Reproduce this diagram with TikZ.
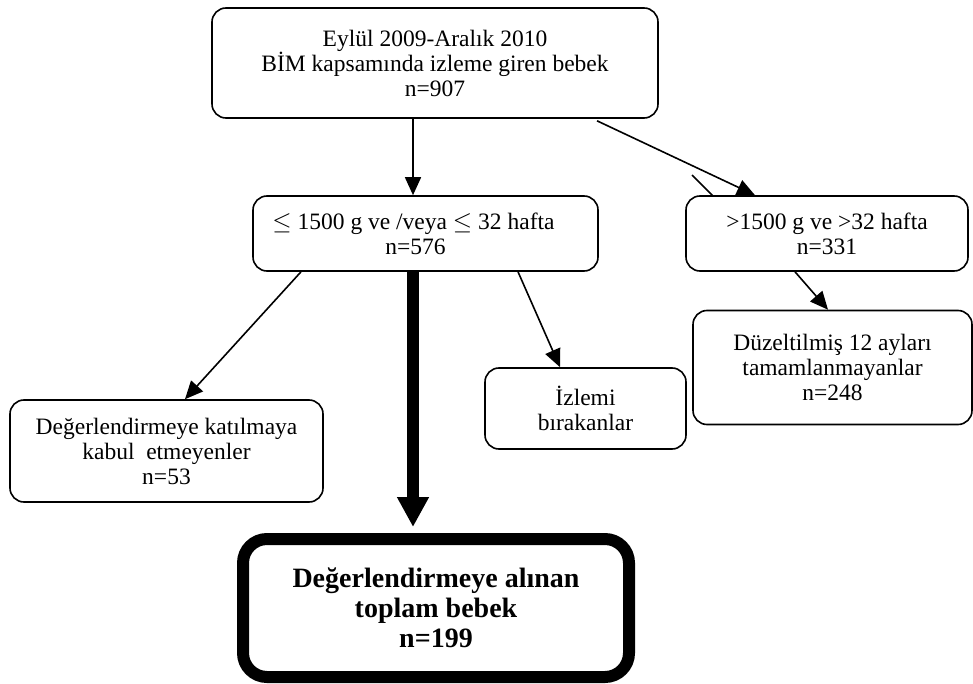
\documentclass[tikz,border=0pt]{standalone}
\usepackage{fontspec}
\setmainfont{Liberation Serif}
\usetikzlibrary{arrows.meta,calc}
\tikzset{
  kutu/.style={draw, line width=1.6pt, rounded corners=14pt, align=center, inner sep=0pt,
    font=\fontsize{23.5}{25}\selectfont},
  ok/.style={line width=1.6pt, -{Triangle[length=18pt,width=16pt]}},
}
\begin{document}
\begin{tikzpicture}[x=1pt,y=-1pt]
\useasboundingbox (0,0) rectangle (973,684);

\node[kutu, minimum width=446pt, minimum height=110pt] (bim) at (435,63)
  {Eylül 2009-Aralık 2010\\BİM kapsamında izleme giren bebek\\n=907};
\node[kutu, minimum width=345pt, minimum height=75pt] (kucuk) at (425.5,233.5)
  {$\leq$ 1500 g ve /veya $\leq$ 32 hafta\hspace*{24pt}\\n=576\hspace*{20pt}};
\node[kutu, minimum width=282pt, minimum height=75pt] (buyuk) at (827,233.5)
  {>1500 g ve >32 hafta\\n=331};
\node[kutu, minimum width=279pt, minimum height=114pt] (duz) at (832.5,367.5)
  {Düzeltilmiş 12 ayları\\tamamlanmayanlar\\n=248};
\node[kutu, minimum width=201pt, minimum height=81pt] (izl) at (585.5,408.5)
  {İzlemi\\bırakanlar};
\node[kutu, minimum width=313pt, minimum height=102pt] (ret) at (166.5,451)
  {Değerlendirmeye katılmaya\\kabul\ \ etmeyenler\\n=53};
\node[kutu, line width=12pt, rounded corners=24pt, minimum width=386pt, minimum height=138pt,
  font=\fontsize{28}{30}\selectfont\bfseries] (top) at (436,608)
  {Değerlendirmeye alınan\\toplam bebek\\n=199};

\draw[ok] ($(bim.south)+(-22,0)$) -- ($(kucuk.north)+(-12.5,0)$);
\draw[ok] ($(bim.south)+(162,2)$) -- ($(buyuk.north)+(-72,0)$);
\draw[line width=1.6pt] (692,175) -- (713,196);
\draw[ok] ($(kucuk.south)+(-124.5,0)$) -- ($(ret.north)+(18.5,0)$);
\draw[ok] ($(kucuk.south)+(92.5,0)$) -- ($(izl.north)+(-25.5,0)$);
\draw[ok] ($(buyuk.south)+(-32,0)$) -- ($(duz.north)+(-4.5,0)$);
\draw[line width=12pt, -{Triangle[length=30pt,width=30pt]}] ($(kucuk.south)+(-12.5,0)$) -- ($(top.north)+(-23,-6)$);

\end{tikzpicture}
\end{document}
